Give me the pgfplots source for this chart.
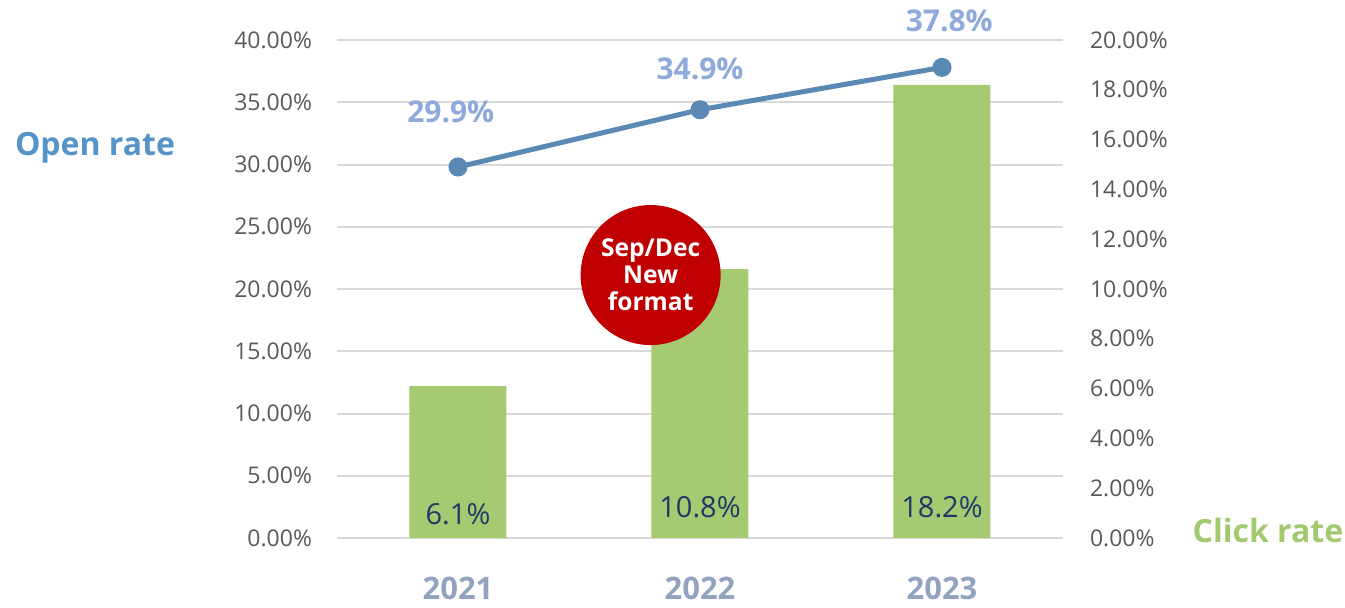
\documentclass[border=0pt]{standalone}
\usepackage{pgfplots}
\pgfplotsset{compat=1.18}
\usepackage{fontspec}
\setmainfont{Open Sans}
\definecolor{linecol}{RGB}{90,137,180}
\definecolor{linelab}{RGB}{142,170,219}
\definecolor{openlab}{RGB}{85,148,201}
\definecolor{barcol}{RGB}{165,202,114}
\definecolor{clicklab}{RGB}{163,201,110}
\definecolor{barlab}{RGB}{31,56,100}
\definecolor{yearcol}{RGB}{146,163,191}
\definecolor{circred}{RGB}{192,0,0}
\definecolor{tickgray}{RGB}{89,89,89}
\definecolor{gridgray}{RGB}{217,217,217}
\begin{document}
\begin{tikzpicture}
% left axis: open rate (line) + grid
\begin{axis}[
  at={(0pt,0pt)}, anchor=south west,
  scale only axis, width=363pt, height=249pt,
  xmin=-0.5, xmax=2.5, ymin=0, ymax=40,
  clip=false,
  axis y line*=left, axis x line*=bottom,
  y axis line style={draw=none},
  x axis line style={gridgray, line width=1pt},
  xtick={0,1,2}, xticklabels={2021,2022,2023},
  xtick style={draw=none},
  xticklabel style={font=\bfseries\fontsize{15.5}{17}\selectfont, text=yearcol, anchor=center, inner sep=0pt, yshift=-25pt},
  ytick={0,5,10,15,20,25,30,35,40},
  yticklabels={0.00\%,5.00\%,10.00\%,15.00\%,20.00\%,25.00\%,30.00\%,35.00\%,40.00\%},
  yticklabel style={font=\fontsize{11.5}{13}\selectfont, text=tickgray, xshift=-9pt},
  ytick style={draw=none},
  major tick length=0pt,
  ymajorgrids, grid style={gridgray, line width=1pt},
]
\addplot[linecol, line width=2.5pt, mark=*, mark size=3.5pt, mark options={fill=linecol, draw=linecol}]
  coordinates {(0,29.8) (1,34.4) (2,37.8)};
\node[font=\bfseries\fontsize{15}{17}\selectfont, text=linelab] at (axis cs:-0.03,34.2) {29.9\%};
\node[font=\bfseries\fontsize{15}{17}\selectfont, text=linelab] at (axis cs:1,37.7) {34.9\%};
\node[font=\bfseries\fontsize{15}{17}\selectfont, text=linelab, inner sep=1pt] at (axis cs:2.03,41.5) {37.8\%};
\end{axis}
% right axis: click rate (bars)
\begin{axis}[
  at={(0pt,0pt)}, anchor=south west,
  scale only axis, width=363pt, height=249pt,
  xmin=-0.5, xmax=2.5, ymin=0, ymax=20,
  clip=false,
  axis y line*=right, axis x line*=bottom,
  x axis line style={draw=none},
  xtick=\empty,
  y axis line style={draw=none},
  ytick={0,2,4,6,8,10,12,14,16,18,20},
  yticklabels={0.00\%,2.00\%,4.00\%,6.00\%,8.00\%,10.00\%,12.00\%,14.00\%,16.00\%,18.00\%,20.00\%},
  yticklabel style={font=\fontsize{11.5}{13}\selectfont, text=tickgray, xshift=10pt},
  ytick style={draw=none},
  major tick length=0pt,
  ybar, bar width=48.5pt,
]
\addplot[fill=barcol, draw=none] coordinates {(0,6.1) (1,10.8) (2,18.2)};
\node[font=\fontsize{14.5}{16}\selectfont, text=barlab] at (axis cs:0,0.96) {6.1\%};
\node[font=\fontsize{14.5}{16}\selectfont, text=barlab] at (axis cs:1,1.25) {10.8\%};
\node[font=\fontsize{14.5}{16}\selectfont, text=barlab] at (axis cs:2,1.25) {18.2\%};
\node[circle, fill=circred, minimum size=70pt, inner sep=0pt, text=white, align=center,
      font=\bfseries\fontsize{12.3}{13.5}\selectfont] at (axis cs:0.796,10.56) {Sep/Dec\\New\\format};
\end{axis}
\node[font=\bfseries\fontsize{16}{18}\selectfont, text=openlab] at (-121pt,195pt) {Open rate};
\node[font=\bfseries\fontsize{16}{18}\selectfont, text=clicklab] at (465.5pt,4pt) {Click rate};
\pgfresetboundingbox
\path (-168.5pt,-34.5pt) rectangle (504pt,269pt);
\end{tikzpicture}
\end{document}
